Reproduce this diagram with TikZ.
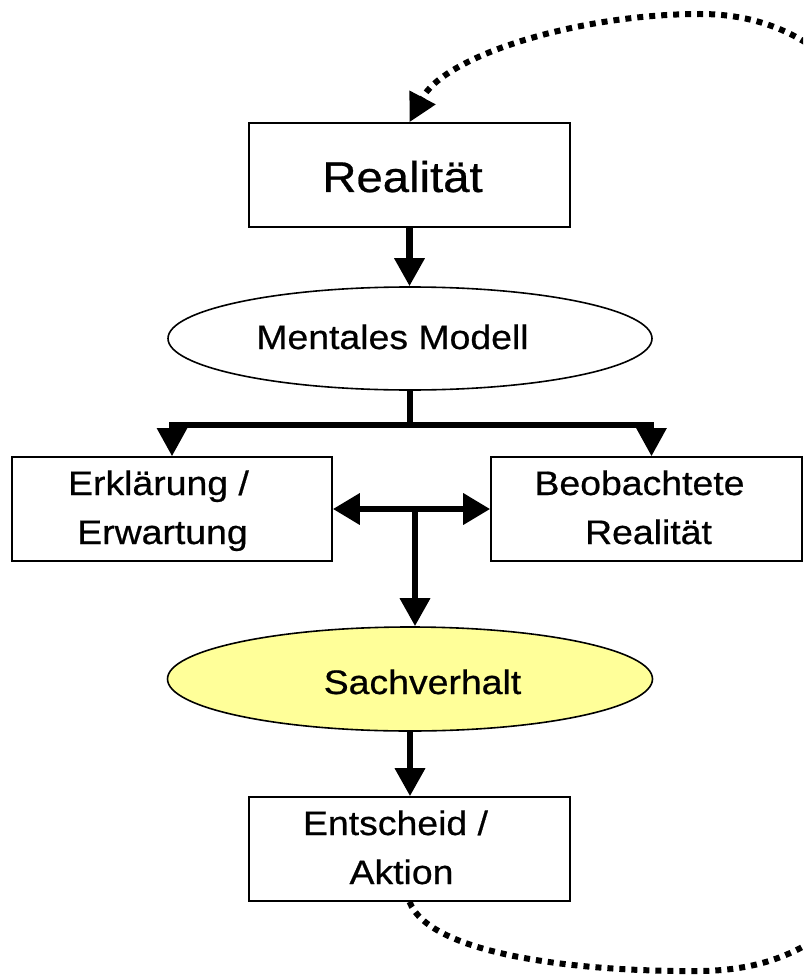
\documentclass[tikz,border=0pt]{standalone}
\usepackage{fontspec}
\setmainfont{Liberation Sans}[FakeStretch=1.1,FakeBold=0.6]
\usetikzlibrary{arrows.meta,shapes.geometric}
\definecolor{factfill}{HTML}{FFFF99}

\tikzset{
  box/.style={draw, line width=1.6pt, rectangle, inner sep=0pt, minimum height=104pt},
  oval/.style={draw, line width=1.6pt, ellipse, inner sep=0pt},
  lbl/.style={inner sep=0pt, anchor=base, font=\fontsize{34}{40}\selectfont},
  biglbl/.style={inner sep=0pt, anchor=base, font=\fontsize{43}{50}\selectfont},
  flow/.style={line width=6.5pt, -{Triangle[width=29pt,length=28pt]}},
  twoway/.style={line width=6.5pt, {Triangle[width=30pt,length=27pt]}-{Triangle[width=30pt,length=27pt]}},
  feedback/.style={line width=6pt, dash pattern=on 6pt off 6pt,
                   -{Triangle[width=28pt,length=28pt]}}
}

\begin{document}
\begin{tikzpicture}[x=1pt,y=-1pt]
  \fill[white] (0,0) rectangle (803,976);
  \useasboundingbox (0,0) rectangle (803,976);

  % boxes and ellipses
  \node[box, minimum width=321pt] (real) at (409.5,175) {};
  \node[oval, minimum width=484pt, minimum height=103pt] (ment) at (410,338.5) {};
  \node[box, minimum width=320pt] (erk) at (172,509) {};
  \node[box, minimum width=311pt] (beo) at (646.5,509) {};
  \node[oval, fill=factfill, minimum width=485pt, minimum height=104pt] (sach) at (410,679) {};
  \node[box, minimum width=321pt] (ent) at (409.5,849) {};

  % labels
  \node[biglbl] (realT) at (402.5,192) {Realität};
  \node[lbl] (mentT) at (392.5,349) {Mentales Modell};
  \node[lbl] (erkT1) at (158.5,495) {Erklärung /};
  \node[lbl] (erkT2) at (162.5,544) {Erwartung};
  \node[lbl] (beoT1) at (639.5,495) {Beobachtete};
  \node[lbl] (beoT2) at (648.5,544) {Realität};
  \node[lbl] (sachT) at (422.5,694) {Sachverhalt};
  \node[lbl] (entT1) at (395.5,835) {Entscheid /};
  \node[lbl] (entT2) at (401.5,884) {Aktion};

  % main flow
  \draw[flow] (real.south) -- (real.south |- ment.north);
  \coordinate (br) at (410,425);
  \draw[line width=6.5pt] (ment.south) -- (br);
  \draw[flow, line width=5.5pt] (br) -| (erk.north);
  \draw[flow, line width=5.5pt] (br) -| ([xshift=5pt]beo.north);
  \draw[twoway] (erk.east) -- (beo.west);
  \coordinate (tj) at (415,509);
  \draw[flow] (tj) -- (tj |- sach.north);
  \draw[flow] (sach.south) -- (sach.south |- ent.north);

  % feedback loop from the decision back to reality
  \begin{scope}
    \clip (0,0) rectangle (803,976);
    \draw[feedback] (ent.south)
      .. controls (430,955) and (580,972) .. (700,971)
      .. controls (820,970) and (950,900) .. (950,500)
      .. controls (950,100) and (820,14) .. (700,14)
      .. controls (580,14) and (445,55) .. (real.north);
  \end{scope}
\end{tikzpicture}
\end{document}
